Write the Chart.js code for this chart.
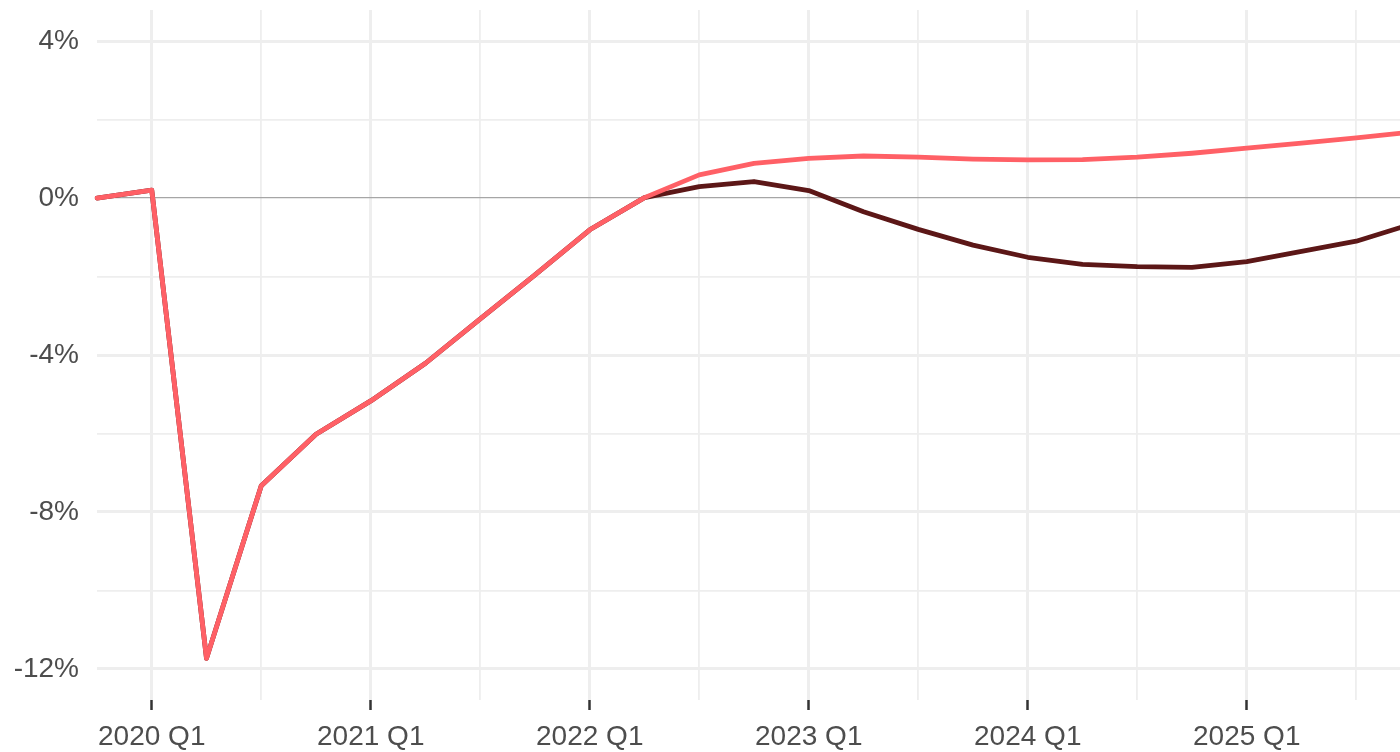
<!DOCTYPE html>
<html>
<head>
<meta charset="utf-8">
<script src="https://cdn.jsdelivr.net/npm/chart.js@4.4.1/dist/chart.umd.min.js"></script>
<style>
  html, body { margin: 0; padding: 0; background: #ffffff; overflow: hidden; }
  #wrap { position: absolute; left: 0; top: 0; width: 1430px; height: 770px; }
</style>
</head>
<body>
<div id="wrap"><canvas id="c" width="1430" height="770"></canvas></div>
<script>
const quarters = [
  "2019 Q4",
  "2020 Q1","2020 Q2","2020 Q3","2020 Q4",
  "2021 Q1","2021 Q2","2021 Q3","2021 Q4",
  "2022 Q1","2022 Q2","2022 Q3","2022 Q4",
  "2023 Q1","2023 Q2","2023 Q3","2023 Q4",
  "2024 Q1","2024 Q2","2024 Q3","2024 Q4",
  "2025 Q1","2025 Q2","2025 Q3","2025 Q4"
];
const seriesLight = [
  0.00,
  0.20, -11.73, -7.33, -6.02,
  -5.17, -4.21, -3.08, -1.96,
  -0.81, 0.01, 0.59, 0.88,
  1.01, 1.07, 1.04, 0.99,
  0.97, 0.98, 1.04, 1.14,
  1.27, 1.40, 1.53, 1.68
];
const seriesDark = [
  0.00,
  0.20, -11.73, -7.33, -6.02,
  -5.17, -4.21, -3.08, -1.96,
  -0.81, 0.01, 0.29, 0.42,
  0.19, -0.35, -0.80, -1.20,
  -1.51, -1.69, -1.75, -1.77,
  -1.62, -1.36, -1.10, -0.67
];
const yTickValues = [-12, -10, -8, -6, -4, -2, 0, 2, 4];
const yLabelValues = [-12, -8, -4, 0, 4];

const gridCol = '#eeeeee';
const textCol = '#4d4d4d';
const fontFam = 'Liberation Sans, Arial, sans-serif';

new Chart(document.getElementById('c'), {
  type: 'line',
  data: {
    labels: quarters,
    datasets: [
      {
        label: 'light',
        data: seriesLight,
        borderColor: '#ff6066',
        borderWidth: 4.8,
        pointRadius: 0,
        tension: 0,
        borderCapStyle: 'round',
        borderJoinStyle: 'round',
        order: 0
      },
      {
        label: 'dark',
        data: seriesDark,
        borderColor: '#5c1717',
        borderWidth: 4.8,
        pointRadius: 0,
        tension: 0,
        borderCapStyle: 'round',
        borderJoinStyle: 'round',
        order: 1
      }
    ]
  },
  options: {
    responsive: false,
    animation: false,
    events: [],
    layout: { padding: { left: 0, right: 19, top: 10, bottom: 0 } },
    plugins: { legend: { display: false }, tooltip: { enabled: false } },
    scales: {
      x: {
        type: 'category',
        offset: false,
        border: { display: false },
        grid: {
          drawTicks: true,
          tickLength: 10,
          color: (ctx) => {
            const l = quarters[ctx.index] || '';
            if (l.endsWith('Q1')) return gridCol;
            if (l.endsWith('Q3')) return gridCol;
            return 'rgba(0,0,0,0)';
          },
          lineWidth: (ctx) => {
            const l = quarters[ctx.index] || '';
            return l.endsWith('Q1') ? 3 : 1.8;
          },
          tickColor: (ctx) => {
            const l = quarters[ctx.index] || '';
            return l.endsWith('Q1') ? '#333333' : 'rgba(0,0,0,0)';
          },
          tickWidth: 2.5
        },
        ticks: {
          autoSkip: false,
          maxRotation: 0,
          minRotation: 0,
          padding: 10,
          color: textCol,
          font: { family: fontFam, size: 28 },
          callback: function(v, i) {
            const l = quarters[i];
            return l.endsWith('Q1') ? l : '';
          }
        },
        afterFit: (s) => { s.height = 70; s.paddingLeft = 0; s.paddingRight = 0; }
      },
      y: {
        min: -12.79,
        max: 4.79,
        border: { display: false },
        afterBuildTicks: (s) => { s.ticks = yTickValues.map(v => ({ value: v })); },
        grid: {
          drawTicks: false,
          color: (ctx) => {
            const v = ctx.tick ? ctx.tick.value : null;
            if (v === 0) return '#a6a6a6';
            return gridCol;
          },
          lineWidth: (ctx) => {
            const v = ctx.tick ? ctx.tick.value : null;
            if (v === 0) return 1.3;
            return yLabelValues.includes(v) ? 3 : 1.8;
          }
        },
        ticks: {
          padding: 18,
          color: textCol,
          font: { family: fontFam, size: 28 },
          callback: (v) => yLabelValues.includes(v) ? v + '%' : ''
        },
        afterFit: (s) => { s.width = 97; s.paddingTop = 0; s.paddingBottom = 0; }
      }
    }
  }
});
</script>
</body>
</html>
